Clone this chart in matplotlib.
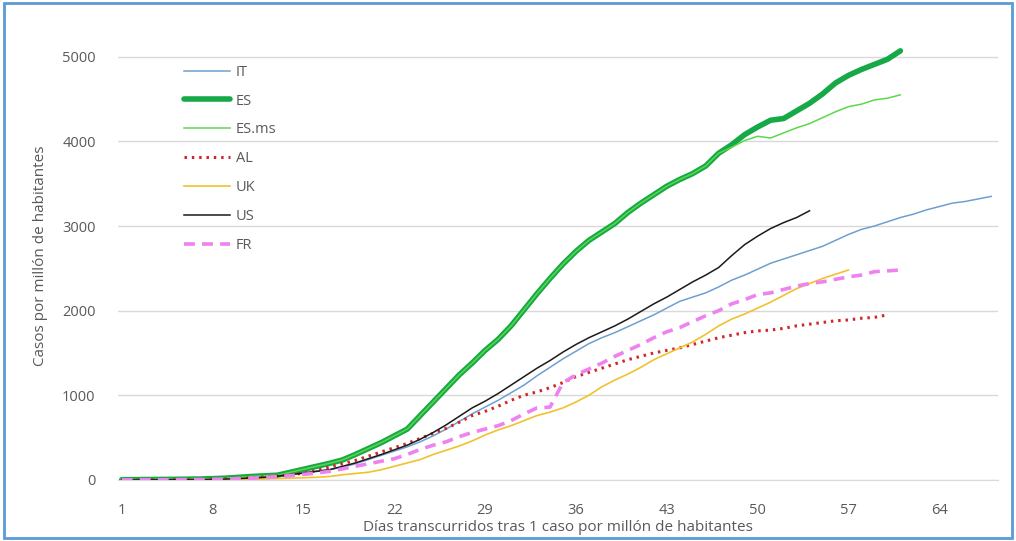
import matplotlib
matplotlib.use("Agg")
import matplotlib.pyplot as plt
from matplotlib import font_manager
from matplotlib.patches import Rectangle

# ============================================================
# Datos (casos por millón de habitantes, día 1, 2, 3, ...)
# ============================================================
IT = [0, 0, 1, 2, 3, 4, 5, 8, 12, 20, 30, 40, 50, 65, 85, 105, 120, 150, 190, 240,
      290, 340, 390, 450, 520, 600, 690, 780, 860, 940, 1030, 1120, 1230, 1330, 1430,
      1520, 1610, 1680, 1740, 1810, 1880, 1950, 2030, 2110, 2160, 2210, 2280, 2360,
      2420, 2490, 2560, 2610, 2660, 2710, 2760, 2830, 2900, 2960, 3000, 3050, 3100,
      3140, 3190, 3230, 3270, 3290, 3320, 3350]
ES = [2, 3, 4, 5, 6, 8, 10, 14, 20, 30, 40, 48, 55, 90, 125, 160, 195, 235, 300, 370,
      440, 520, 600, 760, 920, 1080, 1240, 1380, 1530, 1660, 1820, 2010, 2200, 2380,
      2550, 2700, 2830, 2930, 3030, 3160, 3270, 3370, 3470, 3550, 3620, 3710, 3860,
      3960, 4080, 4170, 4250, 4270, 4360, 4450, 4560, 4690, 4780, 4850, 4910, 4970, 5070]
ES_ms = ES[:47] + [3930, 4010, 4060, 4040, 4100, 4160, 4210, 4280, 4350, 4410, 4440,
                   4490, 4510, 4550]
AL = [0, 0, 1, 2, 3, 4, 6, 9, 12, 18, 25, 35, 45, 60, 80, 110, 150, 190, 230, 280,
      330, 380, 430, 490, 550, 610, 680, 760, 810, 870, 940, 1000, 1040, 1090, 1150,
      1220, 1270, 1320, 1370, 1420, 1460, 1500, 1530, 1560, 1600, 1640, 1680, 1710,
      1740, 1760, 1770, 1790, 1820, 1840, 1860, 1880, 1890, 1910, 1920, 1950]
UK = [0, 0, 0, 1, 1, 2, 2, 3, 4, 6, 8, 10, 15, 20, 25, 30, 40, 60, 75, 90, 120, 160,
      200, 240, 300, 350, 400, 460, 530, 590, 640, 700, 760, 800, 850, 920, 1000, 1100,
      1180, 1250, 1330, 1420, 1490, 1560, 1630, 1720, 1820, 1900, 1960, 2030, 2100,
      2180, 2260, 2320, 2380, 2430, 2480]
US = [0, 0, 1, 1, 2, 3, 4, 6, 9, 15, 22, 30, 45, 60, 80, 100, 120, 160, 200, 250,
      300, 355, 410, 480, 560, 650, 750, 850, 930, 1020, 1120, 1220, 1320, 1410, 1510,
      1600, 1680, 1750, 1820, 1900, 1990, 2080, 2160, 2250, 2340, 2420, 2510, 2650,
      2780, 2880, 2970, 3040, 3100, 3180]
FR = [0, 0, 1, 1, 2, 3, 4, 6, 9, 14, 20, 28, 38, 50, 65, 80, 100, 130, 160, 190, 220,
      250, 300, 360, 410, 450, 510, 560, 600, 640, 700, 780, 850, 860, 1150, 1240, 1310,
      1380, 1460, 1530, 1600, 1680, 1750, 1800, 1870, 1940, 2000, 2080, 2130, 2190,
      2210, 2250, 2290, 2320, 2340, 2370, 2400, 2420, 2460, 2470, 2480]

x_ticks = [1, 8, 15, 22, 29, 36, 43, 50, 57, 64]
y_ticks = [0, 1000, 2000, 3000, 4000, 5000]

# fuente parecida a Calibri si existe
_names = {f.name for f in font_manager.fontManager.ttflist}
font = "Liberation Sans Narrow" if "Liberation Sans Narrow" in _names else "Open Sans"
plt.rcParams["font.family"] = [font, "DejaVu Sans"]

gray = "#595959"
series = [
    ("IT", IT, dict(color="#6e9fd0", lw=1.1)),
    ("ES", ES, dict(color="#17a847", lw=4.0, solid_capstyle="round")),
    ("ES.ms", ES_ms, dict(color="#5ad94a", lw=1.1)),
    ("AL", AL, dict(color="#d0262a", lw=2.2, linestyle=(0, (0.8, 1.6)))),
    ("UK", UK, dict(color="#f2c12e", lw=1.2)),
    ("US", US, dict(color="#1a1a1a", lw=1.1)),
    ("FR", FR, dict(color="#ee82ee", lw=2.6, linestyle=(0, (3, 2)))),
]

fig = plt.figure(figsize=(10.16, 5.41), dpi=100)
ax = fig.add_axes([0.116, 0.113, 0.866, 0.829])

for name, vals, style in series:
    days = list(range(1, len(vals) + 1))
    ax.plot(days, vals, label=name, **style)

ax.set_xlim(0.7, 68.5)
ax.set_ylim(0, 5300)
ax.set_xticks(x_ticks)
ax.set_yticks(y_ticks)
ax.yaxis.grid(True, color="#d9d9d9", lw=1)
ax.set_axisbelow(True)
for s in ["top", "right", "left"]:
    ax.spines[s].set_visible(False)
ax.spines["bottom"].set_color("#d9d9d9")
ax.tick_params(axis="both", length=0, colors=gray, labelsize=10.5)
ax.tick_params(axis="y", pad=16)
ax.tick_params(axis="x", pad=17)

ax.set_xlabel("Días transcurridos tras 1 caso por millón de habitantes",
              color=gray, fontsize=11, labelpad=1)
ax.set_ylabel("Casos por millón de habitantes", color=gray, fontsize=11, labelpad=10)

leg = ax.legend(loc="upper left", bbox_to_anchor=(0.06, 0.955), frameon=False,
                fontsize=10.5, labelspacing=0.95, handlelength=3.2, handletextpad=0.35)
for t in leg.get_texts():
    t.set_color(gray)

# borde azul de la figura
fig.patches.append(Rectangle((0.004, 0.006), 0.992, 0.988, transform=fig.transFigure,
                             fill=False, edgecolor="#5b9bd5", lw=2))

fig.savefig("out.png", dpi=100)
